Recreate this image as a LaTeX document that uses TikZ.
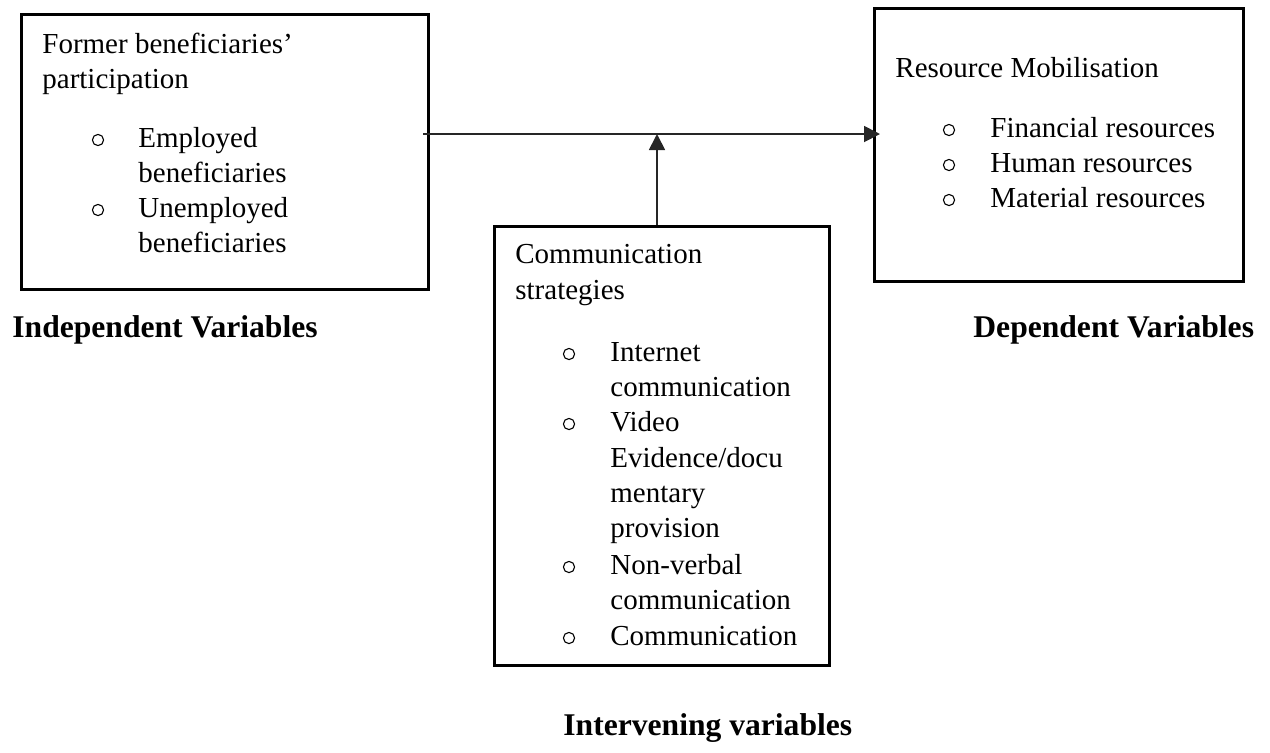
\documentclass[tikz,border=0pt]{standalone}
\usepackage{fontspec}
\setmainfont{Liberation Serif}
\usetikzlibrary{arrows.meta}
\begin{document}
\begin{tikzpicture}[x=0.5pt,y=-0.5pt,
  boxst/.style={draw=black,line width=1.3pt,anchor=north west,inner sep=0pt,fill=none},
  txt/.style={anchor=base west,inner sep=0pt,font=\fontsize{14.5}{17.5}\selectfont},
  bul/.style={circle,draw=black,line width=0.55pt,inner sep=0pt,minimum size=5.6pt},
  lab/.style={anchor=base west,inner sep=0pt,font=\fontsize{15.8}{19}\selectfont\bfseries},
  conn/.style={draw=black!85,line width=0.9pt,-{Triangle[width=8pt,length=8pt]}}]
\useasboundingbox (0,0) rectangle (1270,752);
% boxes
\node[boxst,minimum width=203.5pt,minimum height=137.5pt] (lbox) at (20,13) {};
\node[boxst,minimum width=184.5pt,minimum height=136.5pt] (rbox) at (873,7) {};
\node[boxst,minimum width=167.5pt,minimum height=219.5pt] (mbox) at (493,225) {};
% left box text
\node[txt] (l1) at (42,53) {Former beneficiaries’};
\node[txt] (l2) at (42,88) {participation};
\node[bul] (lb1) at (98,140) {};
\node[txt] (l3) at (138,147) {Employed};
\node[txt] (l4) at (138,182) {beneficiaries};
\node[bul] (lb2) at (98,210) {};
\node[txt] (l5) at (138,217) {Unemployed};
\node[txt] (l6) at (138,252) {beneficiaries};
% right box text
\node[txt] (r1) at (895,77) {Resource Mobilisation};
\node[bul] (rb1) at (949,130) {};
\node[txt] (r2) at (990,137) {Financial resources};
\node[bul] (rb2) at (949,165) {};
\node[txt] (r3) at (990,172) {Human resources};
\node[bul] (rb3) at (949,200) {};
\node[txt] (r4) at (990,207) {Material resources};
% middle box text
\node[txt] (m1) at (515,263) {Communication};
\node[txt] (m2) at (515,299) {strategies};
\node[bul] (mb1) at (569,354) {};
\node[txt] (m3) at (610,361) {Internet};
\node[txt] (m4) at (610,396) {communication};
\node[bul] (mb2) at (569,424) {};
\node[txt] (m5) at (610,431) {Video};
\node[txt] (m6) at (610,467) {Evidence/docu};
\node[txt] (m7) at (610,502) {mentary};
\node[txt] (m8) at (610,537) {provision};
\node[bul] (mb3) at (569,567) {};
\node[txt] (m9) at (610,574) {Non-verbal};
\node[txt] (m10) at (610,609) {communication};
\node[bul] (mb4) at (569,638) {};
\node[txt] (m11) at (610,645) {Communication};
% labels
\node[lab] (indep) at (12,337) {Independent Variables};
\node[lab] (dep) at (973,337) {Dependent Variables};
\node[lab] (interv) at (563,735) {Intervening variables};
% connectors
\coordinate (hs) at (423,134);
\coordinate (he) at (880,134);
\coordinate (mid) at (657,134);
\draw[conn] (hs) -- (he);
\draw[conn] (mbox.north -| mid) -- (mid);
\end{tikzpicture}
\end{document}
